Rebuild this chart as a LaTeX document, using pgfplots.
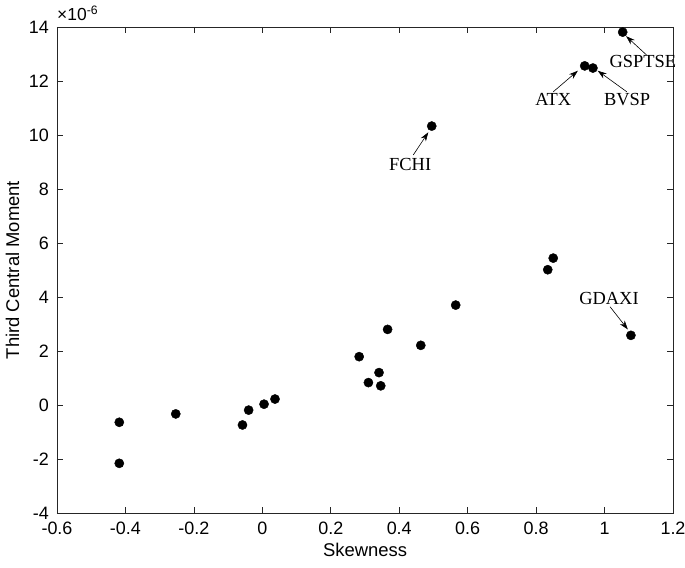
\documentclass[border=0pt]{standalone}
\usepackage{fontspec}
\setmainfont{Liberation Sans}
\newfontfamily\timesfont{Liberation Serif}
\usepackage{pgfplots}
\pgfplotsset{compat=1.18}
\usetikzlibrary{arrows.meta}
\tikzset{
  annot/.style={font=\timesfont\fontsize{18.5}{20}\selectfont, inner sep=0pt},
  arr/.style={-{Stealth[length=9bp,width=6bp]}, line width=0.6pt, black},
}
\begin{document}
\begin{tikzpicture}
\useasboundingbox (-57bp,-55bp) rectangle (628bp,513bp);
\begin{axis}[
  at={(0,0)}, anchor=south west,
  scale only axis, width=616bp, height=486bp,
  xmin=-0.6, xmax=1.2, ymin=-4, ymax=14,
  xtick={-0.6,-0.4,-0.2,0,0.2,0.4,0.6,0.8,1,1.2},
  xticklabels={-0.6,-0.4,-0.2,0,0.2,0.4,0.6,0.8,1,1.2},
  ytick={-4,-2,0,2,4,6,8,10,12,14},
  yticklabels={-4,-2,0,2,4,6,8,10,12,14},
  tick align=inside, major tick length=6bp,
  axis line style={black!85, line width=0.7pt}, tick style={black!85, line width=0.7pt},
  tick label style={font=\fontsize{18}{20}\selectfont, inner sep=1bp},
  x tick label style={yshift=-8bp},
  y tick label style={xshift=-7bp},
  label style={font=\fontsize{18.5}{20}\selectfont},
  xlabel={Skewness}, ylabel={Third Central Moment},
  xlabel shift=4bp, ylabel shift=5bp,
  clip=false,
]
\addplot[only marks, mark=*, mark size=4.6bp, black] coordinates {
  (-0.418,-0.64) (-0.418,-2.16) (-0.253,-0.33) (-0.058,-0.74) (-0.040,-0.19)
  (0.005,0.03) (0.037,0.22) (0.283,1.79) (0.310,0.83) (0.341,1.20)
  (0.346,0.71) (0.366,2.80) (0.463,2.21) (0.565,3.70) (0.834,5.01)
  (0.850,5.44) (0.495,10.33) (0.942,12.56) (0.966,12.48) (1.053,13.81)
  (1.077,2.58)
};
\node[annot] at (axis cs:1.112,12.71) {GSPTSE};
\draw[arr] (axis cs:1.123,12.96) -- (axis cs:1.063,13.66);
\node[annot] at (axis cs:0.850,11.30) {ATX};
\draw[arr] (axis cs:0.850,11.60) -- (axis cs:0.922,12.38);
\node[annot] at (axis cs:1.066,11.30) {BVSP};
\draw[arr] (axis cs:1.065,11.60) -- (axis cs:0.980,12.38);
\node[annot] at (axis cs:0.432,8.89) {FCHI};
\draw[arr] (axis cs:0.441,9.26) -- (axis cs:0.485,10.10);
\node[annot] at (axis cs:1.013,3.95) {GDAXI};
\draw[arr] (axis cs:1.016,3.64) -- (axis cs:1.068,2.80);
\node[anchor=south west, inner sep=0pt, font=\fontsize{17.5}{19}\selectfont] at (rel axis cs:0,1.012) {×10\textsuperscript{-6}};
\end{axis}
\end{tikzpicture}
\end{document}
